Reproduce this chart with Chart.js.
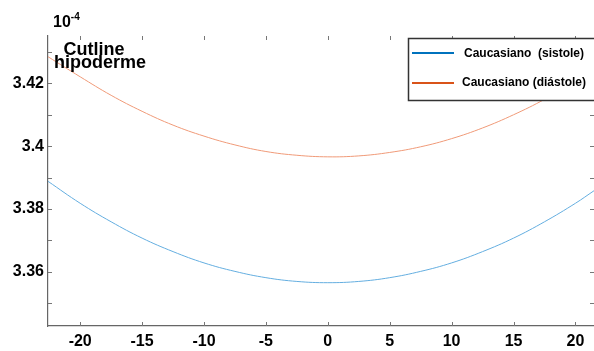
<!DOCTYPE html>
<html>
<head>
<meta charset="utf-8">
<script src="https://cdn.jsdelivr.net/npm/chart.js@4.4.1/dist/chart.umd.min.js"></script>
<style>
  html, body { margin: 0; padding: 0; background: #fff; }
  #wrap { width: 594px; height: 351px; position: relative; }
</style>
</head>
<body>
<div id="wrap"><canvas id="c" width="594" height="351"></canvas></div>
<script>
// Position along the cutline (x) and value in units of 10^-4 (y)
const positions = [-22.6, -20, -17.5, -15, -12.5, -10, -7.5, -5, -2.5, 0, 2.5, 5, 7.5, 10, 12.5, 15, 17.5, 20, 21.5];
const sistole   = [3.3888, 3.3818, 3.3759, 3.3707, 3.3664, 3.3628, 3.3601, 3.3581, 3.3569, 3.3565, 3.3569, 3.3581, 3.3601, 3.3628, 3.3664, 3.3707, 3.3759, 3.3818, 3.3858];
const diastole  = [3.4285, 3.4221, 3.4162, 3.4111, 3.4067, 3.4032, 3.4004, 3.3983, 3.3971, 3.3966, 3.3969, 3.3980, 3.3998, 3.4024, 3.4058, 3.4100, 3.4149, 3.4206, 3.4244];
const seriesNames = ['Caucasiano  (sistole)', 'Caucasiano (diástole)'];
const yLabelTicks = [3.36, 3.38, 3.4, 3.42];
const xTickValues = [-20, -15, -10, -5, 0, 5, 10, 15, 20];
const titleLines = ['Cutline', 'hipoderme'];
const exponentBase = '10';
const exponentPower = '-4';

const FONT = '"Liberation Sans", Arial, sans-serif';

const toPoints = (ys) => positions.map((x, i) => ({ x, y: ys[i] }));

// Inward tick marks on all four sides, plus legend and annotations
const decorations = {
  id: 'decorations',
  afterDraw(chart) {
    const ctx = chart.ctx;
    const a = chart.chartArea;
    const xs = chart.scales.x, ys = chart.scales.y;
    ctx.save();
    ctx.strokeStyle = '#777';
    ctx.lineWidth = 1;
    const len = 4;
    ys.ticks.forEach(t => {
      const py = Math.round(ys.getPixelForValue(t.value)) + 0.5;
      ctx.beginPath();
      ctx.moveTo(a.left, py); ctx.lineTo(a.left + len, py);
      ctx.moveTo(a.right, py); ctx.lineTo(a.right - len, py);
      ctx.stroke();
    });
    xs.ticks.forEach(t => {
      const px = Math.round(xs.getPixelForValue(t.value)) + 0.5;
      ctx.beginPath();
      ctx.moveTo(px, a.bottom); ctx.lineTo(px, a.bottom - len);
      ctx.moveTo(px, a.top); ctx.lineTo(px, a.top + len);
      ctx.stroke();
    });

    // exponent label
    ctx.fillStyle = '#000';
    ctx.textAlign = 'left';
    ctx.textBaseline = 'alphabetic';
    ctx.font = 'bold 16px ' + FONT;
    ctx.fillText(exponentBase, 53, 27);
    const w = ctx.measureText(exponentBase).width;
    ctx.font = 'bold 10px ' + FONT;
    ctx.fillText(exponentPower, 53 + w, 20);

    // title text inside the plot
    ctx.font = 'bold 18px ' + FONT;
    ctx.textAlign = 'center';
    ctx.fillText(titleLines[0], 94, 55);
    ctx.fillText(titleLines[1], 100, 68);

    // legend box
    const lx = 408.5, ly = 38.5, lw = 200, lh = 62;
    ctx.fillStyle = '#fff';
    ctx.fillRect(lx, ly, lw, lh);
    ctx.strokeStyle = '#333';
    ctx.lineWidth = 1.5;
    ctx.strokeRect(lx, ly, lw, lh);
    const rows = [
      { y: 53, tx: 464, ty: 57, color: '#0072BD' },
      { y: 83, tx: 462, ty: 86, color: '#D95319' }
    ];
    ctx.font = 'bold 12px ' + FONT;
    ctx.textAlign = 'left';
    rows.forEach((r, i) => {
      ctx.strokeStyle = r.color;
      ctx.lineWidth = 2;
      ctx.beginPath();
      ctx.moveTo(412, r.y); ctx.lineTo(454, r.y);
      ctx.stroke();
      ctx.fillStyle = '#000';
      ctx.fillText(chart.data.datasets[i].label, r.tx, r.ty);
    });
    ctx.restore();
  }
};

new Chart(document.getElementById('c'), {
  type: 'line',
  data: {
    datasets: [
      { label: seriesNames[0], data: toPoints(sistole), borderColor: '#64aee0', borderWidth: 1, pointRadius: 0, tension: 0.4, fill: false },
      { label: seriesNames[1], data: toPoints(diastole), borderColor: '#f09a78', borderWidth: 1, pointRadius: 0, tension: 0.4, fill: false }
    ]
  },
  options: {
    responsive: false,
    animation: false,
    events: [],
    layout: { padding: { top: 36, right: 0, left: 0, bottom: 0 } },
    plugins: { legend: { display: false }, tooltip: { enabled: false } },
    scales: {
      x: {
        type: 'linear',
        min: -22.6,
        max: 21.5,
        afterFit: (s) => { s.height = 25; },
        afterBuildTicks: (s) => { s.ticks = xTickValues.map(v => ({ value: v })); },
        grid: { display: false, drawTicks: false },
        border: { display: true, color: '#666', width: 1.2 },
        ticks: {
          padding: 6,
          color: '#000',
          font: { family: FONT, size: 16, weight: 'bold' },
          maxRotation: 0,
          callback: (v) => String(v)
        }
      },
      y: {
        type: 'linear',
        min: 3.3427,
        max: 3.4351,
        afterFit: (s) => { s.width = 48; },
        grid: { display: false, drawTicks: false },
        border: { display: true, color: '#666', width: 1.2 },
        ticks: {
          stepSize: 0.01,
          includeBounds: false,
          padding: 4,
          color: '#000',
          font: { family: FONT, size: 16, weight: 'bold' },
          callback: (v) => {
            const hit = yLabelTicks.find(t => Math.abs(t - v) < 1e-6);
            return hit !== undefined ? String(hit) : '';
          }
        }
      }
    }
  },
  plugins: [decorations]
});
</script>
</body>
</html>
